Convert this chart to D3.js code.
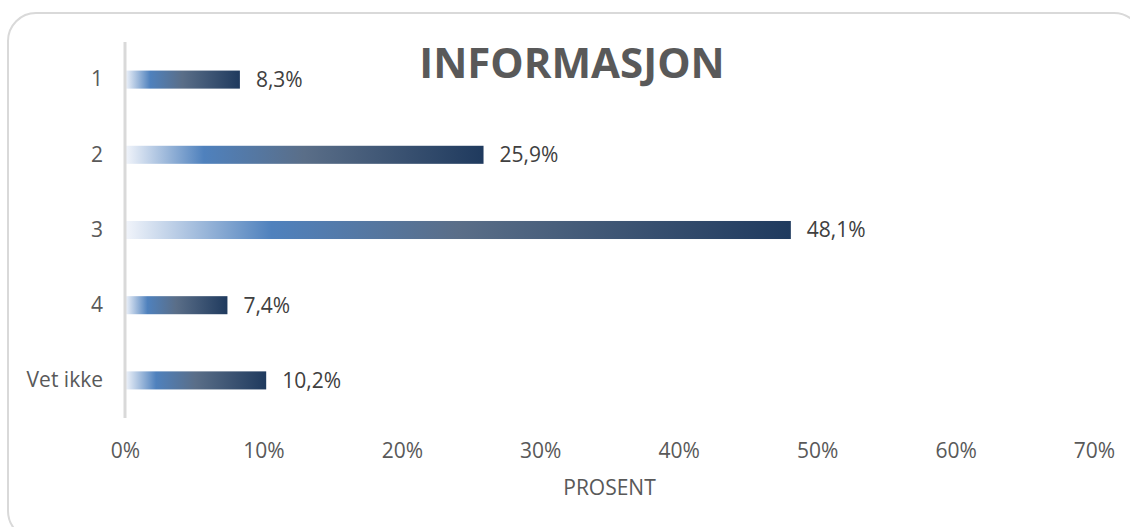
<!DOCTYPE html>
<html>
<head>
<meta charset="utf-8">
<script src="https://cdn.jsdelivr.net/npm/d3@7"></script>
<style>
  body { margin: 0; background: #fff; }
  text { font-family: 'Open Sans', sans-serif; }
</style>
</head>
<body>
<div id="chart"></div>
<script>
const categories = ['1', '2', '3', '4', 'Vet ikke']
const values = [8.3, 25.9, 48.1, 7.4, 10.2]
const valueLabels = ['8,3%', '25,9%', '48,1%', '7,4%', '10,2%']
const xTicks = [0, 10, 20, 30, 40, 50, 60, 70]

const W = 1130
const H = 527
const fontSize = 21

const svg = d3
  .select('#chart')
  .append('svg')
  .attr('width', W)
  .attr('height', H)

// chart frame
svg
  .append('rect')
  .attr('x', 8)
  .attr('y', 13)
  .attr('width', 1134)
  .attr('height', 526)
  .attr('rx', 28)
  .attr('fill', '#fff')
  .attr('stroke', '#d9d9d9')
  .attr('stroke-width', 2)

const xScale = d3.scaleLinear().domain([0, 70]).range([125, 1094])
const yScale = d3
  .scaleBand()
  .domain(categories)
  .range([42, 418])
  .paddingInner(0.76)
  .paddingOuter(0.38)

// gradient for the bars
const defs = svg.append('defs')
categories.forEach((c, i) => {
  const g = defs
    .append('linearGradient')
    .attr('id', 'grad' + i)
    .attr('x1', '0%')
    .attr('x2', '100%')
  g.append('stop').attr('offset', '0%').attr('stop-color', '#f2f5fb')
  g.append('stop').attr('offset', '22%').attr('stop-color', '#4f81bd')
  g.append('stop').attr('offset', '50%').attr('stop-color', '#5a6e88')
  g.append('stop').attr('offset', '100%').attr('stop-color', '#1f3a5e')
})

const rows = categories.map((c, i) => ({ cat: c, value: values[i], label: valueLabels[i], i }))

svg
  .selectAll('.bar')
  .data(rows)
  .enter()
  .append('rect')
  .attr('class', 'bar')
  .attr('x', xScale(0))
  .attr('y', d => yScale(d.cat))
  .attr('width', d => xScale(d.value) - xScale(0))
  .attr('height', yScale.bandwidth())
  .attr('fill', d => 'url(#grad' + d.i + ')')

// value labels
svg
  .selectAll('.val')
  .data(rows)
  .enter()
  .append('text')
  .attr('class', 'val')
  .attr('x', d => xScale(d.value) + 16)
  .attr('y', d => yScale(d.cat) + yScale.bandwidth() / 2)
  .attr('dy', '0.35em')
  .attr('font-size', fontSize)
  .attr('fill', '#404040')
  .text(d => d.label)

// y axis
const yAxis = d3.axisLeft(yScale).tickSize(0).tickPadding(22)
const yG = svg
  .append('g')
  .attr('transform', 'translate(' + xScale(0) + ',0)')
  .call(yAxis)
yG.select('.domain').remove()
yG.selectAll('text').attr('font-size', fontSize).attr('fill', '#595959').attr('font-family', 'Open Sans')

svg
  .append('line')
  .attr('x1', xScale(0))
  .attr('x2', xScale(0))
  .attr('y1', 42)
  .attr('y2', 418)
  .attr('stroke', '#d9d9d9')
  .attr('stroke-width', 3)

// x axis
const xAxis = d3
  .axisBottom(xScale)
  .tickValues(xTicks)
  .tickSize(0)
  .tickPadding(0)
  .tickFormat(d => d + '%')
const xG = svg
  .append('g')
  .attr('transform', 'translate(0,458)')
  .call(xAxis)
xG.select('.domain').remove()
xG.selectAll('text')
  .attr('y', 0)
  .attr('dy', 0)
  .attr('font-size', fontSize)
  .attr('fill', '#595959')
  .attr('font-family', 'Open Sans')

svg
  .append('text')
  .attr('x', (xScale(0) + xScale(70)) / 2)
  .attr('y', 495)
  .attr('text-anchor', 'middle')
  .attr('font-size', fontSize)
  .attr('fill', '#595959')
  .text('PROSENT')

svg
  .append('text')
  .attr('x', 572)
  .attr('y', 78)
  .attr('text-anchor', 'middle')
  .attr('font-size', 42)
  .attr('font-weight', 'bold')
  .attr('fill', '#595959')
  .text('INFORMASJON')
</script>
</body>
</html>
